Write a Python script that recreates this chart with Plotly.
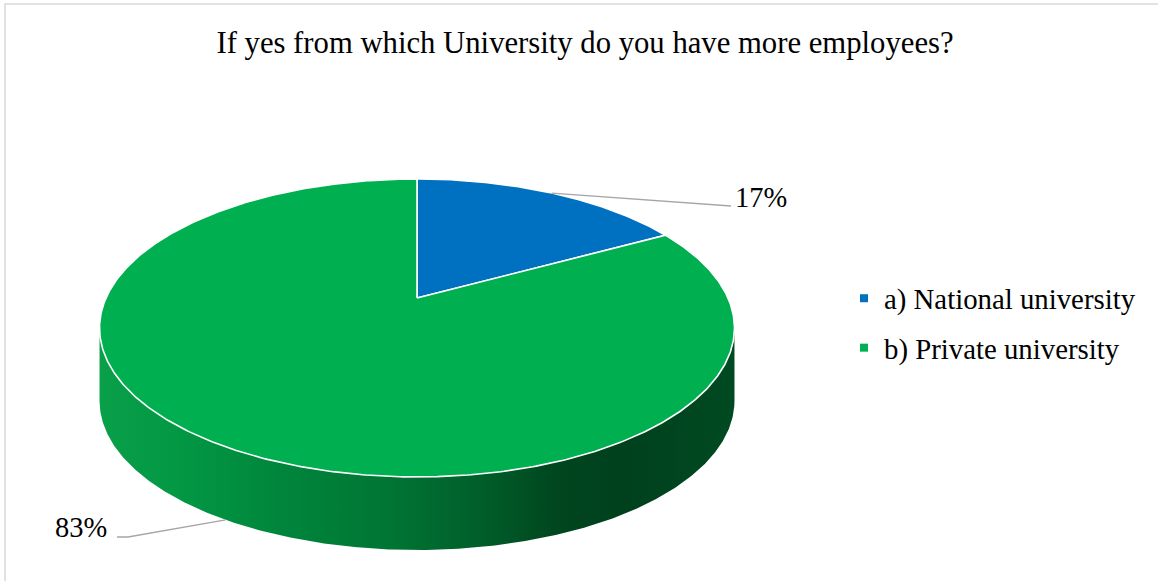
import numpy as np
import plotly.graph_objects as go

# ---- data -------------------------------------------------------------
labels = ["a) National university", "b) Private university"]
values = [17, 83]
colors = ["#0070C0", "#00B050"]
pct_text = ["17%", "83%"]
title_text = "If yes from which University do you have more employees?"

# ---- pie geometry (screen pixels, perspective-tilted disc) ------------
W, H = 1158, 581
CX, CY = 417.0, 298.0      # projected centre of the top face
SX, SY = 311.0, 143.0      # horizontal scale / depth scale
K = 0.201                  # perspective strength (far side smaller)
DEPTH = 73.0               # thickness of the disc

FONT = "Liberation Serif, Times New Roman, serif"


def proj(theta_deg, drop=0.0):
    """Point on the rim of the disc, angle measured clockwise from 12 o'clock."""
    t = np.radians(theta_deg)
    s, c = np.sin(t), np.cos(t)
    den = 1.0 + K * c
    return CX + SX * s / den, CY - SY * c / den + drop


total = float(sum(values))
starts = np.cumsum([0.0] + values[:-1]) / total * 360.0
spans = np.array(values) / total * 360.0

fig = go.Figure()

# ---- side wall (front half) with left-to-right shading ----------------
th_a = np.degrees(np.arccos(-K))
th_b = 360.0 - th_a
ths = np.linspace(th_a, th_b, 400)
top_x, top_y = zip(*[proj(t) for t in ths])
bot_x, bot_y = zip(*[proj(t, DEPTH) for t in ths[::-1]])
side_x = list(top_x) + list(bot_x) + [top_x[0]]
side_y = list(top_y) + list(bot_y) + [top_y[0]]

side_scale = [
    [0.00, "rgb(10,160,74)"],
    [0.12, "rgb(2,152,68)"],
    [0.28, "rgb(0,134,60)"],
    [0.45, "rgb(0,118,52)"],
    [0.60, "rgb(0,94,42)"],
    [0.72, "rgb(0,70,31)"],
    [0.82, "rgb(0,64,29)"],
    [1.00, "rgb(0,74,33)"],
]
fig.add_trace(go.Scatter(
    x=side_x, y=side_y, mode="lines", fill="toself",
    fillgradient=dict(type="horizontal", colorscale=side_scale),
    line=dict(width=0), hoverinfo="skip", showlegend=False,
))

# ---- top face slices --------------------------------------------------
for lab, st, sp, col in zip(labels, starts, spans, colors):
    angs = np.linspace(st, st + sp, max(int(sp * 2), 8))
    px, py = zip(*[proj(a) for a in angs])
    fig.add_trace(go.Scatter(
        x=[CX, *px, CX], y=[CY, *py, CY],
        mode="lines", fill="toself", fillcolor=col,
        line=dict(color="white", width=1.6),
        name=lab, hoverinfo="name", showlegend=False,
    ))

# ---- legend entries ---------------------------------------------------
for i, (lab, col) in enumerate(zip(labels, colors)):
    fig.add_trace(go.Scatter(
        x=[None], y=[None], mode="markers", name=lab,
        marker=dict(symbol="square", size=8, color=col),
        legendgroup=f"g{i}", showlegend=True,
    ))

# ---- data labels with leader lines -----------------------------------
mid0 = starts[0] + spans[0] / 2.0
mid1 = starts[1] + spans[1] / 2.0
ax0, ay0 = proj(mid0)
ax1, ay1 = proj(mid1, DEPTH)
lead = dict(color="#A6A6A6", width=1.3)
fig.add_trace(go.Scatter(x=[ax0, 724, 731], y=[ay0, 206, 206], mode="lines",
                         line=lead, hoverinfo="skip", showlegend=False))
fig.add_trace(go.Scatter(x=[ax1, 128, 117], y=[ay1, 537, 537], mode="lines",
                         line=lead, hoverinfo="skip", showlegend=False))

annots = [
    dict(x=733, y=197, text=pct_text[0], xanchor="left", yanchor="middle"),
    dict(x=109, y=527, text=pct_text[1], xanchor="right", yanchor="middle"),
]
for a in annots:
    a.update(xref="x", yref="y", showarrow=False,
             font=dict(family=FONT, size=28.5, color="#000000"))

fig.update_layout(
    width=W, height=H, autosize=False,
    margin=dict(l=0, r=0, t=0, b=0),
    paper_bgcolor="white", plot_bgcolor="white",
    title=dict(text=title_text, x=585 / W, xanchor="center",
               y=1 - 42 / H, yanchor="middle", yref="container",
               font=dict(family=FONT, size=30.7, color="#000000")),
    xaxis=dict(range=[0, W], visible=False, fixedrange=True),
    yaxis=dict(range=[H, 0], visible=False, fixedrange=True),
    legend=dict(x=(884 - 40) / W, xanchor="left", y=1 - 273 / H, yanchor="top",
                font=dict(family=FONT, size=28.8, color="#000000"),
                tracegroupgap=9, bgcolor="rgba(0,0,0,0)"),
    annotations=annots,
    shapes=[dict(type="rect", xref="x", yref="y", x0=5, y0=4, x1=W + 20, y1=H + 20,
                 line=dict(color="#D9D9D9", width=1.5), fillcolor="rgba(0,0,0,0)",
                 layer="below")],
    showlegend=True,
)

fig.write_html("out.html")
